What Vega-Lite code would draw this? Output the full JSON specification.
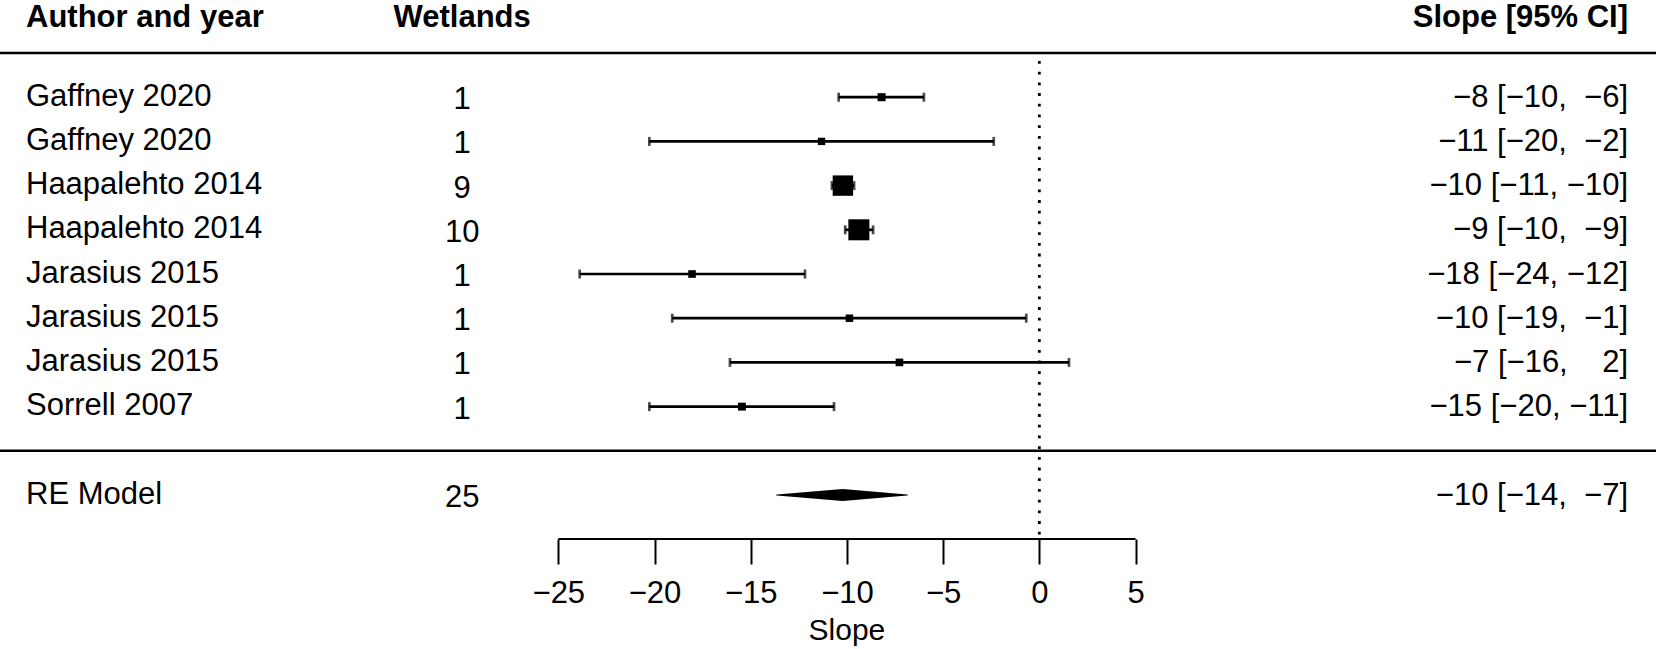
{
  "$schema": "https://vega.github.io/schema/vega-lite/v6.json",
  "width": 1656,
  "height": 539,
  "autosize": {"type": "none"},
  "padding": {"left": 0, "top": 0, "right": 0, "bottom": 110},
  "background": "white",
  "config": {
    "view": {"stroke": null},
    "font": "Liberation Sans",
    "axisX": {"grid": false, "domain": false, "ticks": true, "tickSize": 25, "tickWidth": 2, "tickColor": "black", "labelFontSize": 31, "labelFont": "Liberation Sans", "labelColor": "black", "labelPadding": 38, "labelBaseline": "alphabetic", "labelFlush": false, "labelOverlap": false}
  },
  "data": {"values": [
    {"id": 8, "author": "Gaffney 2020", "wetlands": 1, "est": -8.2, "lower": -10.43, "upper": -6.0, "label": "\u22128 [\u221210, \u00a0\u22126]", "weight": 8.4, "type": "study"},
    {"id": 7, "author": "Gaffney 2020", "wetlands": 1, "est": -11.32, "lower": -20.27, "upper": -2.37, "label": "\u221211 [\u221220, \u00a0\u22122]", "weight": 7.9, "type": "study"},
    {"id": 6, "author": "Haapalehto 2014", "wetlands": 9, "est": -10.21, "lower": -10.78, "upper": -9.63, "label": "\u221210 [\u221211, \u221210]", "weight": 25.0, "type": "study"},
    {"id": 5, "author": "Haapalehto 2014", "wetlands": 10, "est": -9.38, "lower": -10.09, "upper": -8.64, "label": "\u22129 [\u221210, \u00a0\u22129]", "weight": 26.2, "type": "study"},
    {"id": 4, "author": "Jarasius 2015", "wetlands": 1, "est": -18.05, "lower": -23.89, "upper": -12.18, "label": "\u221218 [\u221224, \u221212]", "weight": 8.1, "type": "study"},
    {"id": 3, "author": "Jarasius 2015", "wetlands": 1, "est": -9.87, "lower": -19.08, "upper": -0.68, "label": "\u221210 [\u221219, \u00a0\u22121]", "weight": 8.0, "type": "study"},
    {"id": 2, "author": "Jarasius 2015", "wetlands": 1, "est": -7.27, "lower": -16.08, "upper": 1.54, "label": "\u22127 [\u221216, \u00a0\u00a0 2]", "weight": 8.1, "type": "study"},
    {"id": 1, "author": "Sorrell 2007", "wetlands": 1, "est": -15.46, "lower": -20.27, "upper": -10.67, "label": "\u221215 [\u221220, \u221211]", "weight": 8.3, "type": "study"},
    {"id": -1, "author": "RE Model", "wetlands": 25, "est": -10.22, "lower": -13.65, "upper": -6.86, "label": "\u221210 [\u221214, \u00a0\u22127]", "type": "summary"}
  ]},
  "layer": [
    {
      "transform": [{"filter": "datum.type === 'study'"}],
      "mark": {"type": "rule", "color": "black", "strokeWidth": 2.7},
      "encoding": {
        "x": {"field": "lower", "type": "quantitative", "scale": {"domain": [-54.018, 32.05], "nice": false, "zero": false},
              "axis": {"values": [-25, -20, -15, -10, -5, 0, 5], "format": "d", "grid": false, "domain": false, "tickSize": 25, "tickWidth": 2, "tickColor": "black", "labelFontSize": 31, "labelPadding": 38, "labelBaseline": "alphabetic", "labelFlush": false, "labelOverlap": false, "title": null}},
        "x2": {"field": "upper"},
        "y": {"field": "id", "type": "quantitative", "scale": {"domain": [-1.995, 10.199], "nice": false, "zero": false}, "axis": null}
      }
    },
    {
      "transform": [{"filter": "datum.type === 'study'"}],
      "mark": {"type": "tick", "orient": "vertical", "color": "black", "size": 9, "thickness": 2.7},
      "encoding": {
        "x": {"field": "lower", "type": "quantitative", "scale": {"domain": [-54.018, 32.05], "nice": false, "zero": false}},
        "y": {"field": "id", "type": "quantitative", "scale": {"domain": [-1.995, 10.199], "nice": false, "zero": false}, "axis": null}
      }
    },
    {
      "transform": [{"filter": "datum.type === 'study'"}],
      "mark": {"type": "tick", "orient": "vertical", "color": "black", "size": 9, "thickness": 2.7},
      "encoding": {
        "x": {"field": "upper", "type": "quantitative", "scale": {"domain": [-54.018, 32.05], "nice": false, "zero": false}},
        "y": {"field": "id", "type": "quantitative", "scale": {"domain": [-1.995, 10.199], "nice": false, "zero": false}, "axis": null}
      }
    },
    {
      "transform": [{"filter": "datum.type === 'study'"}],
      "mark": {"type": "square", "color": "black", "filled": true, "opacity": 1},
      "encoding": {
        "x": {"field": "est", "type": "quantitative", "scale": {"domain": [-54.018, 32.05], "nice": false, "zero": false}},
        "y": {"field": "id", "type": "quantitative", "scale": {"domain": [-1.995, 10.199], "nice": false, "zero": false}, "axis": null},
        "size": {"field": "weight", "type": "quantitative", "scale": {"type": "linear", "zero": false, "domain": [8, 26.2], "range": [56, 441]}, "legend": null}
      }
    },
    {
      "transform": [{"filter": "datum.type === 'summary'"}, {"fold": ["lower", "est", "upper"], "as": ["key", "value"]}],
      "mark": {"type": "trail", "color": "black"},
      "encoding": {
        "x": {"field": "value", "type": "quantitative", "scale": {"domain": [-54.018, 32.05], "nice": false, "zero": false}},
        "y": {"field": "id", "type": "quantitative", "scale": {"domain": [-1.995, 10.199], "nice": false, "zero": false}, "axis": null},
        "order": {"field": "value", "type": "quantitative"},
        "size": {"condition": {"test": "datum.key === 'est'", "value": 12}, "value": 0}
      }
    },
    {
      "mark": {"type": "text", "align": "left", "baseline": "alphabetic", "fontSize": 31, "dy": 8.5, "color": "black", "font": "Liberation Sans"},
      "encoding": {
        "x": {"datum": -52.667, "type": "quantitative", "scale": {"domain": [-54.018, 32.05], "nice": false, "zero": false}},
        "y": {"field": "id", "type": "quantitative", "scale": {"domain": [-1.995, 10.199], "nice": false, "zero": false}, "axis": null},
        "text": {"field": "author"}
      }
    },
    {
      "mark": {"type": "text", "align": "center", "baseline": "alphabetic", "fontSize": 31, "dy": 12, "color": "black", "font": "Liberation Sans"},
      "encoding": {
        "x": {"datum": -30.0, "type": "quantitative", "scale": {"domain": [-54.018, 32.05], "nice": false, "zero": false}},
        "y": {"field": "id", "type": "quantitative", "scale": {"domain": [-1.995, 10.199], "nice": false, "zero": false}, "axis": null},
        "text": {"field": "wetlands"}
      }
    },
    {
      "mark": {"type": "text", "align": "right", "baseline": "alphabetic", "fontSize": 31, "dy": 9.5, "color": "black", "font": "Liberation Sans"},
      "encoding": {
        "x": {"datum": 30.597, "type": "quantitative", "scale": {"domain": [-54.018, 32.05], "nice": false, "zero": false}},
        "y": {"field": "id", "type": "quantitative", "scale": {"domain": [-1.995, 10.199], "nice": false, "zero": false}, "axis": null},
        "text": {"field": "label"}
      }
    },
    {
      "data": {"values": [{"h": "Author and year"}]},
      "mark": {"type": "text", "align": "left", "baseline": "alphabetic", "fontSize": 31, "fontWeight": "bold", "color": "black", "font": "Liberation Sans"},
      "encoding": {
        "x": {"datum": -52.667, "type": "quantitative", "scale": {"domain": [-54.018, 32.05], "nice": false, "zero": false}},
        "y": {"datum": 9.577, "type": "quantitative", "scale": {"domain": [-1.995, 10.199], "nice": false, "zero": false}, "axis": null},
        "text": {"field": "h"}
      }
    },
    {
      "data": {"values": [{"h": "Wetlands"}]},
      "mark": {"type": "text", "align": "center", "baseline": "alphabetic", "fontSize": 31, "fontWeight": "bold", "color": "black", "font": "Liberation Sans"},
      "encoding": {
        "x": {"datum": -30.0, "type": "quantitative", "scale": {"domain": [-54.018, 32.05], "nice": false, "zero": false}},
        "y": {"datum": 9.577, "type": "quantitative", "scale": {"domain": [-1.995, 10.199], "nice": false, "zero": false}, "axis": null},
        "text": {"field": "h"}
      }
    },
    {
      "data": {"values": [{"h": "Slope [95% CI]"}]},
      "mark": {"type": "text", "align": "right", "baseline": "alphabetic", "fontSize": 31, "fontWeight": "bold", "color": "black", "font": "Liberation Sans"},
      "encoding": {
        "x": {"datum": 30.597, "type": "quantitative", "scale": {"domain": [-54.018, 32.05], "nice": false, "zero": false}},
        "y": {"datum": 9.577, "type": "quantitative", "scale": {"domain": [-1.995, 10.199], "nice": false, "zero": false}, "axis": null},
        "text": {"field": "h"}
      }
    },
    {
      "data": {"values": [{}]},
      "mark": {"type": "rule", "color": "black", "strokeWidth": 2.5},
      "encoding": {
        "y": {"datum": 9, "type": "quantitative", "scale": {"domain": [-1.995, 10.199], "nice": false, "zero": false}, "axis": null}
      }
    },
    {
      "data": {"values": [{}]},
      "mark": {"type": "rule", "color": "black", "strokeWidth": 2.5},
      "encoding": {
        "y": {"datum": 0, "type": "quantitative", "scale": {"domain": [-1.995, 10.199], "nice": false, "zero": false}, "axis": null}
      }
    },
    {
      "data": {"values": [{}]},
      "mark": {"type": "rule", "color": "black", "strokeWidth": 2.8, "strokeDash": [2.8, 7.9], "strokeDashOffset": -8},
      "encoding": {
        "x": {"datum": 0, "type": "quantitative", "scale": {"domain": [-54.018, 32.05], "nice": false, "zero": false}},
        "y": {"datum": 9, "type": "quantitative", "scale": {"domain": [-1.995, 10.199], "nice": false, "zero": false}, "axis": null},
        "y2": {"datum": -1.92}
      }
    },
    {
      "data": {"values": [{}]},
      "mark": {"type": "rule", "color": "black", "strokeWidth": 2.2},
      "encoding": {
        "x": {"datum": -25, "type": "quantitative", "scale": {"domain": [-54.018, 32.05], "nice": false, "zero": false}},
        "x2": {"datum": 5},
        "y": {"datum": -1.995, "type": "quantitative", "scale": {"domain": [-1.995, 10.199], "nice": false, "zero": false}, "axis": null}
      }
    },
    {
      "data": {"values": [{"t": "Slope"}]},
      "mark": {"type": "text", "align": "center", "baseline": "alphabetic", "fontSize": 30, "color": "black", "font": "Liberation Sans"},
      "encoding": {
        "x": {"datum": -10, "type": "quantitative", "scale": {"domain": [-54.018, 32.05], "nice": false, "zero": false}},
        "y": {"datum": -4.287, "type": "quantitative", "scale": {"domain": [-1.995, 10.199], "nice": false, "zero": false}, "axis": null},
        "text": {"field": "t"}
      }
    }
  ]
}
